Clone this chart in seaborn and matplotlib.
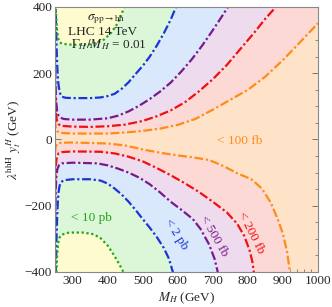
import numpy as np
import matplotlib
matplotlib.use("Agg")
import matplotlib.pyplot as plt
from matplotlib.ticker import MultipleLocator
import seaborn as sns

# contour branches: M_H (GeV) vs lambda*y (GeV)
green_up_m = [251, 252, 254, 256, 259, 263, 270, 300, 350, 370, 390, 410, 425, 438, 447, 455]
green_up = [480, 400, 360, 330, 305, 294, 289, 286, 287, 292, 302, 322, 345, 372, 400, 420]
green_lo_m = [253, 254, 256, 259, 263, 270, 290, 330, 360, 380, 400, 420, 435, 445, 452]
green_lo = [-460, -400, -350, -313, -296, -287, -281, -281, -286, -298, -320, -352, -380, -400, -418]

blue_up_m = [250, 251, 252, 254, 256, 258, 260, 263, 266, 270, 280, 300, 350, 380, 400, 420, 440,
             460, 480, 500, 520, 540, 560, 580, 595, 610]
blue_up = [600, 450, 390, 300, 230, 190, 165, 145, 135, 129, 126, 125, 125, 127, 131, 138, 153,
           173, 198, 222, 250, 283, 320, 362, 400, 440]
blue_lo_m = [250, 251, 252, 254, 256, 258, 260, 263, 267, 275, 300, 350, 380, 400, 420, 440,
             460, 480, 500, 520, 540, 560, 575, 586, 595]
blue_lo = [-600, -500, -400, -310, -240, -190, -160, -140, -129, -123, -120, -120, -124, -133, -148, -166,
           -188, -213, -240, -266, -294, -327, -360, -400, -430]

purple_up_m = [250, 251, 253, 256, 260, 265, 275, 300, 350, 400, 430, 460, 490, 520, 550, 580,
               610, 640, 670, 700, 725, 743, 760]
purple_up = [260, 190, 120, 85, 72, 66, 62, 60, 60, 64, 72, 85, 102, 122, 145, 172,
             205, 242, 284, 330, 370, 400, 430]
purple_lo_m = [250, 252, 254, 257, 262, 270, 300, 370, 400, 430, 460, 490, 520, 550, 580, 610,
               643, 665, 689, 705, 714, 725]
purple_lo = [-300, -150, -110, -88, -77, -72, -70, -72, -78, -88, -100, -115, -135, -160, -188, -212,
             -240, -270, -316, -360, -400, -440]

red_up_m = [250, 251, 253, 256, 260, 270, 300, 350, 400, 450, 500, 540, 580, 620, 660, 700,
            740, 780, 820, 850, 880, 900]
red_up = [180, 120, 75, 55, 46, 41, 39, 38, 40, 45, 56, 70, 88, 112, 145, 182,
          225, 275, 325, 365, 400, 430]
red_lo_m = [250, 251, 253, 256, 260, 270, 300, 380, 420, 460, 500, 540, 580, 620, 660, 700,
            740, 770, 790, 805, 813, 817, 822]
red_lo = [-180, -110, -70, -50, -42, -38, -36, -37, -42, -52, -66, -86, -108, -132, -158, -188,
          -220, -255, -292, -335, -370, -400, -430]

orange_up_m = [250, 252, 256, 265, 300, 400, 450, 500, 550, 600, 650, 700, 750, 800, 850, 900,
               950, 1000]
orange_up = [60, 35, 25, 20, 18, 18, 21, 26, 33, 44, 62, 90, 120, 150, 190, 240,
             295, 351]
orange_lo_m = [250, 252, 256, 265, 300, 400, 450, 500, 550, 600, 650, 690, 730, 770, 810, 840,
               865, 885, 900, 912, 920, 925]
orange_lo = [-40, -22, -13, -10, -9, -12, -18, -30, -40, -48, -55, -62, -80, -102, -120, -148,
             -190, -240, -285, -340, -400, -440]

# (label, line colour, fill colour outside the contour, line style)
dashdot = (0, (4, 1.2, 1, 1.2))
levels = [
    ("100 fb", "#ff8c1a", "#fdd9d6", dashdot, orange_up_m, orange_up, orange_lo_m, orange_lo),
    ("200 fb", "#f01010", "#eedcee", dashdot, red_up_m, red_up, red_lo_m, red_lo),
    ("500 fb", "#7a1a8a", "#d9e9fb", dashdot, purple_up_m, purple_up, purple_lo_m, purple_lo),
    ("2 pb", "#1a35d8", "#dcf6d8", dashdot, blue_up_m, blue_up, blue_lo_m, blue_lo),
    ("10 pb", "#22a322", "#fefccf", (0, (1, 1.2)), green_up_m, green_up, green_lo_m, green_lo),
]
inner_fill = "#fee3c8"

xlim = (250, 1000)
ylim = (-400, 400)

sns.set_theme(style="ticks")
plt.rcParams["font.family"] = ["Liberation Serif", "DejaVu Serif"]
plt.rcParams["mathtext.fontset"] = "stix"

fig = plt.figure(figsize=(3.32, 3.07), dpi=100)
ax = fig.add_axes([55 / 332, 1 - 272 / 307, 263 / 332, 265 / 307])
ax.set_facecolor(inner_fill)

# fills: outside of each contour gets the next colour
for name, lc, fc, ls, um, uv, lm, lv in levels:
    ax.fill_between(um, uv, ylim[1], color=fc, lw=0)
    ax.fill_between(lm, lv, ylim[0], color=fc, lw=0)

for name, lc, fc, ls, um, uv, lm, lv in levels:
    sns.lineplot(x=um, y=uv, ax=ax, color=lc, linestyle=ls, lw=1.6, sort=False)
    sns.lineplot(x=lm, y=lv, ax=ax, color=lc, linestyle=ls, lw=1.6, sort=False)

ax.set_xlim(*xlim)
ax.set_ylim(*ylim)
ax.xaxis.set_major_locator(MultipleLocator(100))
ax.xaxis.set_minor_locator(MultipleLocator(20))
ax.yaxis.set_major_locator(MultipleLocator(200))
ax.yaxis.set_minor_locator(MultipleLocator(50))
ax.tick_params(which="both", direction="in", top=True, right=True, color="#777777",
               labelsize=9.5, pad=2)
ax.tick_params(which="major", length=4, width=0.7)
ax.tick_params(which="minor", length=2, width=0.6)
ax.set_xticks([300, 400, 500, 600, 700, 800, 900, 1000])
for sp in ax.spines.values():
    sp.set_color("#888888")
    sp.set_linewidth(0.8)

ax.set_xlabel(r"$M_H$ (GeV)", fontsize=9.5, labelpad=3)
ax.set_ylabel(r"$\lambda^{\rm hhH}\ y_t^H$ (GeV)", fontsize=9.5, labelpad=1)

ax.text(395, 362, r"$\sigma_{\rm pp\to hh}$", fontsize=9.5, ha="center", va="center")
ax.text(387, 325, "LHC 14 TeV", fontsize=9.5, ha="center", va="center")
ax.text(404, 285, r"$\Gamma_H/M_H$ = 0.01", fontsize=9.5, ha="center", va="center")

ax.text(355, -237, "< 10 pb", color="#22a322", fontsize=9.5, ha="center", va="center")
ax.text(595, -287, "< 2 pb", color="#1a35d8", fontsize=9.5, ha="center", va="center", rotation=-58)
ax.text(702, -291, "< 500 fb", color="#7a1a8a", fontsize=9.5, ha="center", va="center", rotation=-60)
ax.text(810, -283, "< 200 fb", color="#f01010", fontsize=9.5, ha="center", va="center", rotation=-63)
ax.text(778, -4, "< 100 fb", color="#ff8c1a", fontsize=9.5, ha="center", va="center")

fig.savefig("out.png", dpi=100)
